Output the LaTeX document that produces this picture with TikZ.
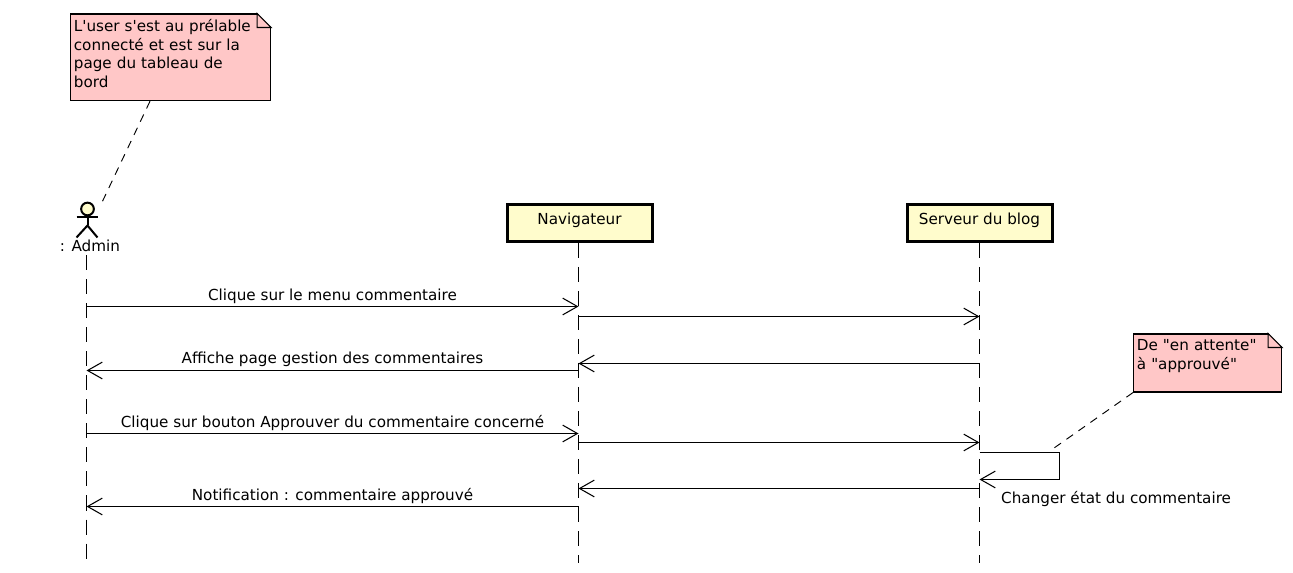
\documentclass[tikz,border=0pt]{standalone}
\usepackage{fontspec}
\newfontfamily\diagfont{DejaVu Sans}
\newcommand{\diagsize}{\diagfont\fontsize{11.4}{14}\selectfont}
\usetikzlibrary{arrows.meta,positioning}
\tikzset{
  headbox/.style={draw, line width=2.25pt, fill=yellow!20, minimum width=108.75pt, minimum height=27.75pt, text depth=6pt, font=\diagsize},
  notebox/.style={draw, line width=0.8pt, fill=red!22, anchor=north west, inner xsep=2.5pt, inner ysep=0pt, align=left, font=\diagsize},
  msg/.style={font=\diagsize},
  lifeline/.style={line width=0.8pt, dash pattern=on 11.25pt off 6.75pt},
  call/.style={-{Straight Barb[length=11pt,width=12.5pt,line width=0.8pt]}, line width=0.8pt},
  noteline/.style={line width=0.7pt, dash pattern=on 6pt off 5pt}
}
\newcommand{\notefold}[1]{
  \fill[white] ([xshift=-10.5pt,yshift=0.6pt]#1.north east) -- ([xshift=0.6pt,yshift=0.6pt]#1.north east) -- ([xshift=0.6pt,yshift=-10.5pt]#1.north east) -- cycle;
  \draw[line width=0.8pt] ([xshift=-10.5pt]#1.north east) -- ([yshift=-10.5pt]#1.north east) -- ([xshift=-10.5pt,yshift=-10.5pt]#1.north east) -- cycle;
}
\begin{document}
\begin{tikzpicture}[x=0.75pt,y=-0.75pt]
    \useasboundingbox (-0.5,-0.5) rectangle (1292.5,572.5);
    % head boxes
    \node[headbox] (nav) at (579,222.5) {Navigateur};
    \node[headbox] (srv) at (979,222.5) {Serveur du blog};
    \node[msg] (admin) at (89.5,245) {: Admin};
    % stick figure
    \node[draw, circle, line width=1.5pt, fill=yellow!20, minimum size=9.5pt, inner sep=0pt] (head) at (87,208.5) {};
    \coordinate (hip) at (87,225);
    \coordinate (armL) at (76,217);
    \coordinate (armR) at (97,217);
    \coordinate (legL) at (76,237);
    \coordinate (legR) at (97,237);
    \draw[line width=1.5pt] (head) -- (hip);
    \draw[line width=1.5pt] (armL) -- (armR);
    \draw[line width=1.5pt] (legL) -- (hip) -- (legR);
    % lifelines
    \coordinate (adminTop) at (86,255);
    \coordinate (adminEnd) at (86,560);
    \coordinate (navEnd) at (578,562);
    \coordinate (srvEnd) at (979,562);
    \draw[lifeline] (adminTop) -- (adminEnd);
    \draw[lifeline] (nav.south -| navEnd) -- (navEnd);
    \draw[lifeline] (srv.south -| srvEnd) -- (srvEnd);
    % message ends
    \coordinate (a1) at (86,306);
    \coordinate (n1) at (578,306);
    \coordinate (n2) at (578,316);
    \coordinate (s2) at (979,316);
    \coordinate (s3) at (979,363);
    \coordinate (n3) at (578,363);
    \coordinate (n4) at (578,370);
    \coordinate (a4) at (86,370);
    \coordinate (a5) at (86,433);
    \coordinate (n5) at (578,433);
    \coordinate (n6) at (578,442);
    \coordinate (s6) at (979,442);
    \coordinate (s7) at (979,452);
    \coordinate (t7) at (1059,452);
    \coordinate (t8) at (1059,479);
    \coordinate (s8) at (979,479);
    \coordinate (s9) at (979,488);
    \coordinate (n9) at (578,488);
    \coordinate (n10) at (578,506);
    \coordinate (a10) at (86,506);
    \draw[call] (a1) -- (n1);
    \draw[call] (n2) -- (s2);
    \draw[call] (s3) -- (n3);
    \draw[call] (n4) -- (a4);
    \draw[call] (a5) -- (n5);
    \draw[call] (n6) -- (s6);
    \draw[call] (s7) -- (t7) -- (t8) -- (s8);
    \draw[call] (s9) -- (n9);
    \draw[call] (n10) -- (a10);
    % labels
    \node[msg] (lab1) at (332,296) {Clique sur le menu commentaire};
    \node[msg] (lab2) at (332,359) {Affiche page gestion des commentaires};
    \node[msg] (lab3) at (332,423) {Clique sur bouton Approuver du commentaire concerné};
    \node[msg] (lab4) at (332,496) {Notification : commentaire approuvé};
    \node[msg, anchor=west] (lab5) at (996,499) {Changer état du commentaire};
    % notes
    \node[notebox, minimum width=150pt, minimum height=65pt, text width=145pt] (note1) at (69.5,13) {L'user s'est au prélable\\connecté et est sur la\\page du tableau de\\bord\rule[-6pt]{0pt}{6pt}};
    \node[notebox, minimum width=111pt, minimum height=43.5pt, text width=106pt] (note2) at (1132.5,333) {De "en attente"\\à "approuvé"\rule[-13pt]{0pt}{6pt}};
    \notefold{note1}
    \notefold{note2}
    \coordinate (note1end) at (100,205);
    \coordinate (note2end) at (1050,450);
    \draw[noteline] (note1.south west) ++(80,0) -- (note1end);
    \draw[noteline] (note2.south west) -- (note2end);
  \end{tikzpicture}
\end{document}
